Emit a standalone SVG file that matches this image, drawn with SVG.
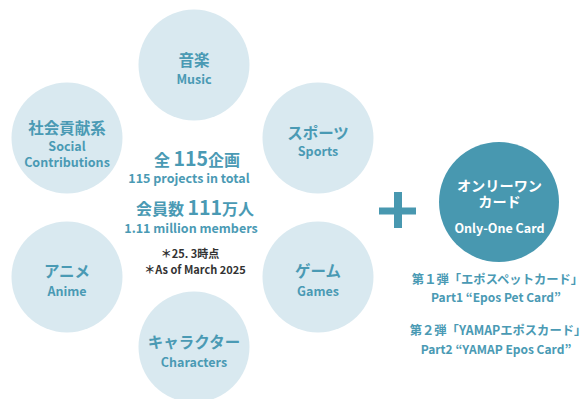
<svg xmlns="http://www.w3.org/2000/svg" width="588" height="399" viewBox="0 0 588 399">
<style>
text{font-family:"Noto Sans CJK JP","Noto Sans",sans-serif;font-weight:700;text-anchor:middle}
.c{fill:#d9e9f0}
.d{fill:#4898b0}
.t{fill:#4a9ab4}
.w{fill:#ffffff}
.g{fill:#333333}
.jp{font-size:15.5px}
.en{font-size:12.5px}
</style>
<rect width="588" height="399" fill="#ffffff"/>
<g id="music"><circle class="c" cx="194" cy="65" r="55.5"/><text class="t jp" x="194" y="66">音楽</text><text class="t en" x="194" y="84">Music</text></g>
<g id="social"><circle class="c" cx="67" cy="138" r="55.5"/><text class="t jp" x="67" y="134">社会貢献系</text><text class="t en" x="67" y="151">Social</text><text class="t en" x="67" y="167">Contributions</text></g>
<g id="sports"><circle class="c" cx="318" cy="138" r="55.5"/><text class="t jp" x="318" y="139">スポーツ</text><text class="t en" x="318" y="156">Sports</text></g>
<g id="anime"><circle class="c" cx="67" cy="277" r="55.5"/><text class="t jp" x="67" y="277">アニメ</text><text class="t en" x="67" y="296">Anime</text></g>
<g id="games"><circle class="c" cx="318" cy="277" r="55.5"/><text class="t jp" x="318" y="277">ゲーム</text><text class="t en" x="318" y="296">Games</text></g>
<g id="characters"><circle class="c" cx="194" cy="347" r="55.5"/><text class="t jp" x="194" y="348">キャラクター</text><text class="t en" x="194" y="367">Characters</text></g>
<g id="center">
<text class="t" x="197" y="166" font-size="16">全 <tspan font-size="19.5">115</tspan>企画</text>
<text class="t en" x="189" y="183">115 projects in total</text>
<text class="t" x="195" y="215" font-size="16">会員数 <tspan font-size="19.5">111</tspan>万人</text>
<text class="t en" x="191" y="233">1.11 million members</text>
<text class="g" x="190" y="258" font-size="11">＊25. 3時点</text>
<text class="g" x="195" y="274" font-size="11">＊As of March 2025</text>
</g>
<g id="plus"><rect class="d" x="394" y="192" width="8" height="36"/><rect class="d" x="379" y="207.5" width="37" height="7"/></g>
<g id="card"><circle class="d" cx="499" cy="202" r="60"/>
<text class="w" x="499.5" y="191" font-size="14.2">オンリーワン</text>
<text class="w" x="499.5" y="207" font-size="14.2">カード</text>
<text class="w en" x="499.5" y="233">Only-One Card</text></g>
<g id="notes">
<text class="t" x="497.5" y="284" font-size="12.3">第１弾「エポスペットカード」</text>
<text class="t" x="496" y="302" font-size="12">Part1 “Epos Pet Card”</text>
<text class="t" x="498" y="335" font-size="12.3">第２弾「YAMAPエポスカード」</text>
<text class="t" x="496" y="354" font-size="12">Part2 “YAMAP Epos Card”</text>
</g>
</svg>
